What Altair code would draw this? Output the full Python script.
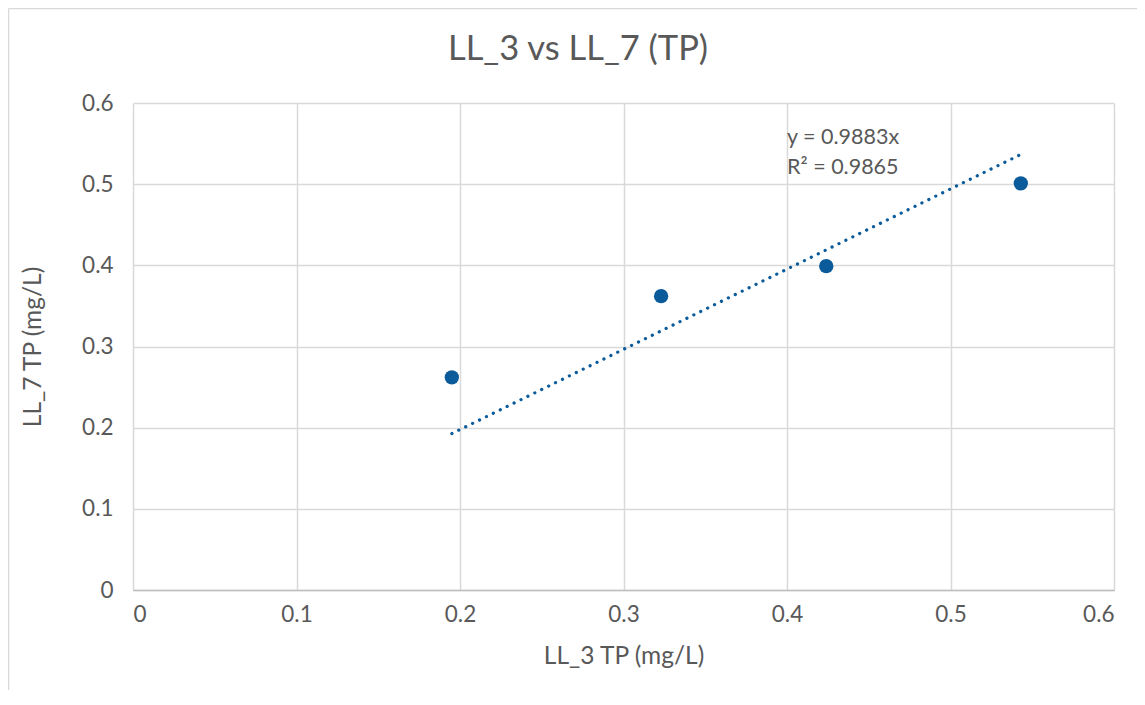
import altair as alt
import pandas as pd

# Data
ll3_tp = [0.195, 0.323, 0.424, 0.543]
ll7_tp = [0.262, 0.362, 0.399, 0.501]
trend_x = [0.195, 0.543]
trend_slope = 0.9883
trend_labels = ["y = 0.9883x", "R² = 0.9865"]
label_x = [0.40, 0.40]
label_y = [0.557, 0.520]
x_ticks = [0, 0.1, 0.2, 0.3, 0.4, 0.5, 0.6]
y_ticks = [0, 0.1, 0.2, 0.3, 0.4, 0.5, 0.6]
chart_title = ["LL_3 vs LL_7 (TP)"]

FONT = "Lato"
TEXT = "#595959"
GRID = "#d9d9d9"
BLUE = "#0b5b9b"

pts = pd.DataFrame({"x": ll3_tp, "y": ll7_tp})
trend = pd.DataFrame({"x": trend_x})
labels = pd.DataFrame({"x": label_x, "y": label_y, "t": trend_labels})
title_df = pd.DataFrame({"t": chart_title})

xs = alt.Scale(domain=[0, 0.6], nice=False, zero=True)
ys = alt.Scale(domain=[0, 0.6], nice=False, zero=True)

xaxis = alt.Axis(values=x_ticks, title="LL_3 TP (mg/L)", format="~g", ticks=False,
                 domain=True, domainColor="#bfbfbf", domainWidth=1.5,
                 grid=True, gridColor=GRID, gridWidth=1.5,
                 labelFont=FONT, labelFontSize=22.5, labelColor=TEXT, labelPadding=13,
                 titleFont=FONT, titleFontSize=24.5, titleColor=TEXT, titleFontWeight="normal",
                 titlePadding=19)
yaxis = alt.Axis(values=y_ticks, title="LL_7 TP (mg/L)", format="~g", ticks=False,
                 domain=False, grid=True, gridColor=GRID, gridWidth=1.5,
                 labelFont=FONT, labelFontSize=22.5, labelColor=TEXT, labelPadding=20,
                 titleFont=FONT, titleFontSize=24.5, titleColor=TEXT, titleFontWeight="normal",
                 titlePadding=36)

points = alt.Chart(pts).mark_point(filled=True, shape="circle", size=205, color=BLUE, opacity=1).encode(
    x=alt.X("x:Q", scale=xs, axis=xaxis),
    y=alt.Y("y:Q", scale=ys, axis=yaxis),
)

line = alt.Chart(trend).transform_calculate(
    y=f"{trend_slope} * datum.x"
).mark_line(color=BLUE, strokeWidth=3.2, strokeDash=[0.1, 7.6], strokeCap="round").encode(
    x=alt.X("x:Q", scale=xs),
    y=alt.Y("y:Q", scale=ys),
)

text = alt.Chart(labels).mark_text(align="left", baseline="middle", font=FONT, fontSize=21.5, color=TEXT).encode(
    x=alt.X("x:Q", scale=xs),
    y=alt.Y("y:Q", scale=ys),
    text="t:N",
)

title = alt.Chart(title_df).mark_text(align="center", baseline="alphabetic", font=FONT,
                                      fontSize=34.5, color=TEXT).encode(
    x=alt.value(445), y=alt.value(-43), text="t:N"
)

# outer chart-area border (top and left edges)
border_top = alt.Chart(title_df).mark_rule(color=GRID, strokeWidth=1.5).encode(
    x=alt.value(-124.5), x2=alt.value(1100), y=alt.value(-94.5)
)
border_left = alt.Chart(title_df).mark_rule(color=GRID, strokeWidth=1.5).encode(
    x=alt.value(-124.5), y=alt.value(-94.5), y2=alt.value(700)
)

chart = alt.layer(border_top, border_left, points, line, text, title).properties(
    width=981,
    height=487,
    padding={"left": 125, "top": 95, "right": 23, "bottom": 100},
    autosize=alt.AutoSizeParams(type="none"),
    background="white",
).configure_view(stroke=None)

chart.save("out.html", embed_options={"renderer": "svg", "actions": False})
